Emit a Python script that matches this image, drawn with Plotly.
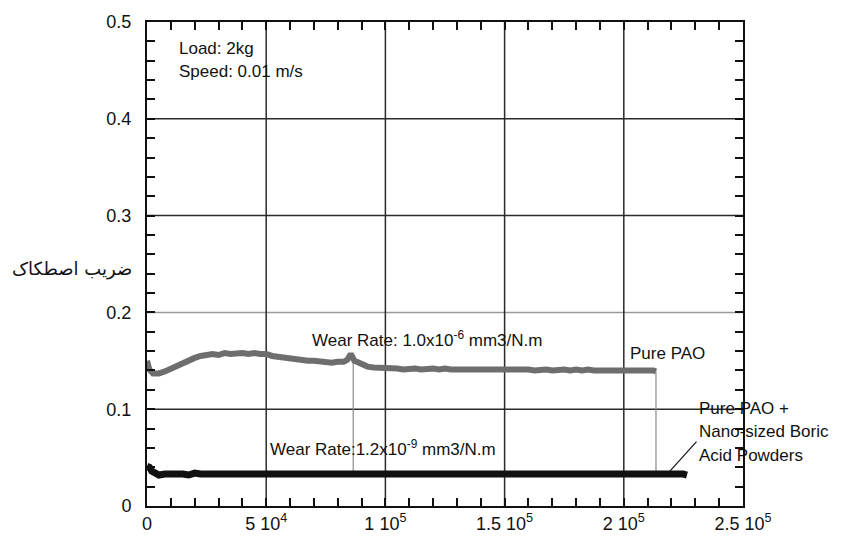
import plotly.graph_objects as go

# ---------------- data ----------------
pao_x = [0, 1000, 2500, 5000, 7500, 10000, 12500, 15000, 17500, 20000, 22500, 25000,
         27500, 30000, 32500, 35000, 37500, 40000, 42500, 45000, 47500, 50000, 52500,
         55000, 57500, 60000, 62500, 65000, 67500, 70000, 72500, 75000, 77500, 80000,
         82500, 84000, 85500, 87000, 90000, 92500, 95000, 97500, 100000, 102500, 105000,
         107500, 110000, 112500, 115000, 117500, 120000, 122500, 125000, 127500, 130000,
         132500, 135000, 137500, 140000, 142500, 145000, 147500, 150000, 152500, 155000,
         157500, 160000, 162500, 165000, 167500, 170000, 172500, 175000, 177500, 180000,
         182500, 185000, 187500, 190000, 192500, 195000, 197500, 200000, 202500, 205000,
         207500, 210000, 212500, 213500]
pao_y = [0.150, 0.141, 0.137, 0.137, 0.139, 0.142, 0.145, 0.148, 0.151, 0.153, 0.155, 0.156,
         0.157, 0.156, 0.158, 0.157, 0.158, 0.158, 0.157, 0.158, 0.157, 0.157, 0.155,
         0.154, 0.154, 0.152, 0.152, 0.151, 0.150, 0.150, 0.149, 0.148, 0.148, 0.149,
         0.149, 0.151, 0.157, 0.150, 0.146, 0.144, 0.143, 0.143, 0.142, 0.143, 0.142,
         0.141, 0.142, 0.142, 0.141, 0.142, 0.142, 0.141, 0.142, 0.141, 0.141,
         0.142, 0.141, 0.142, 0.142, 0.141, 0.141, 0.142, 0.141, 0.141, 0.142,
         0.141, 0.141, 0.140, 0.141, 0.141, 0.140, 0.141, 0.141, 0.140, 0.141,
         0.140, 0.141, 0.140, 0.140, 0.141, 0.140, 0.140, 0.140, 0.141, 0.140,
         0.140, 0.140, 0.140, 0.139]

boric_x = [0, 1000, 2000, 3500, 5000, 7500, 10000, 12500, 15000, 17500, 20000, 22500,
           25000, 27500, 30000, 32500, 35000, 37500, 40000, 42500, 45000, 47500, 50000,
           52500, 55000, 57500, 60000, 62500, 65000, 67500, 70000, 72500, 75000, 77500,
           80000, 82500, 85000, 87500, 90000, 92500, 95000, 97500, 100000, 102500, 105000,
           107500, 110000, 112500, 115000, 117500, 120000, 122500, 125000, 127500, 130000,
           132500, 135000, 137500, 140000, 142500, 145000, 147500, 150000, 152500, 155000,
           157500, 160000, 162500, 165000, 167500, 170000, 172500, 175000, 177500, 180000,
           182500, 185000, 187500, 190000, 192500, 195000, 197500, 200000, 202500, 205000,
           207500, 210000, 212500, 215000, 217500, 220000, 222500, 225000, 226500]
boric_y = [0.041, 0.040, 0.036, 0.033, 0.032, 0.033, 0.033, 0.034, 0.033, 0.032, 0.034, 0.033,
           0.033, 0.034, 0.033, 0.033, 0.034, 0.033, 0.033, 0.034, 0.033, 0.033, 0.034,
           0.033, 0.034, 0.033, 0.033, 0.034, 0.033, 0.034, 0.033, 0.033, 0.034, 0.033,
           0.033, 0.034, 0.033, 0.034, 0.033, 0.033, 0.034, 0.033, 0.034, 0.033, 0.033,
           0.034, 0.033, 0.034, 0.033, 0.034, 0.033, 0.034, 0.034, 0.033, 0.034,
           0.033, 0.034, 0.033, 0.034, 0.034, 0.033, 0.034, 0.033, 0.034, 0.033,
           0.034, 0.034, 0.033, 0.034, 0.033, 0.034, 0.034, 0.033, 0.034, 0.033,
           0.034, 0.033, 0.034, 0.034, 0.033, 0.034, 0.033, 0.034, 0.033, 0.034,
           0.033, 0.034, 0.033, 0.034, 0.033, 0.034, 0.033, 0.033, 0.032]

# connector lines between the curves (x position, top, bottom)
drop_x = [86500, 213500]
drop_top = [0.152, 0.139]
drop_bottom = [0.034, 0.034]

# every tick position gets an inside tick mark; only the majors get a label
x_tickvals = [i * 10000 for i in range(26)]
x_major_labels = {0: "0", 5: "5 10<sup>4</sup>", 10: "1 10<sup>5</sup>",
                  15: "1.5 10<sup>5</sup>", 20: "2 10<sup>5</sup>", 25: "2.5 10<sup>5</sup>"}
x_ticktext = [x_major_labels.get(i, "") for i in range(26)]
x_grid = [50000, 100000, 150000, 200000]

y_tickvals = [round(i * 0.02, 2) for i in range(26)]
y_major_labels = {0: "0", 5: "0.1", 10: "0.2", 15: "0.3", 20: "0.4", 25: "0.5"}
y_ticktext = [y_major_labels.get(i, "") for i in range(26)]
y_grid = [0.1, 0.2, 0.3, 0.4]
y_grid_colors = ["#2a2a2a", "#9a9a9a", "#2a2a2a", "#2a2a2a"]

X_MAX, Y_MAX = 250000, 0.5
FONT = "Liberation Sans, Arial, sans-serif"

fig = go.Figure()

for xv, yt, yb in zip(drop_x, drop_top, drop_bottom):
    fig.add_trace(go.Scatter(x=[xv, xv], y=[yt, yb], mode="lines",
                             line=dict(color="#8a8a8a", width=1.2),
                             showlegend=False, hoverinfo="skip"))

fig.add_trace(go.Scatter(x=pao_x, y=pao_y, mode="lines",
                         line=dict(color="#6e6e6e", width=6), showlegend=False))
fig.add_trace(go.Scatter(x=boric_x, y=boric_y, mode="lines",
                         line=dict(color="#111111", width=7), showlegend=False))

# grid lines
for yv, c in zip(y_grid, y_grid_colors):
    fig.add_shape(type="line", xref="x", yref="y", x0=0, x1=X_MAX, y0=yv, y1=yv,
                  line=dict(color=c, width=1.5), layer="below")
for xv in x_grid:
    fig.add_shape(type="line", xref="x", yref="y", x0=xv, x1=xv, y0=0, y1=Y_MAX,
                  line=dict(color="#2a2a2a", width=1.5), layer="below")

ann = [
    dict(x=12600, y=0.473, text="Load: 2kg"),
    dict(x=12600, y=0.449, text="Speed: 0.01 m/s"),
    dict(x=68400, y=0.173, text="Wear Rate: 1.0x10<sup>-6</sup> mm3/N.m"),
    dict(x=201800, y=0.158, text="Pure PAO"),
    dict(x=50800, y=0.060, text="Wear Rate:1.2x10<sup>-9</sup> mm3/N.m"),
    dict(x=230700, y=0.1004, text="Pure PAO +"),
    dict(x=230700, y=0.0768, text="Nano-sized Boric"),
    dict(x=230700, y=0.0523, text="Acid Powders"),
]
for a in ann:
    fig.add_annotation(x=a["x"], y=a["y"], text=a["text"], xref="x", yref="y",
                       xanchor="left", yanchor="middle", showarrow=False,
                       font=dict(family=FONT, size=17, color="#111"))

fig.add_shape(type="line", xref="x", yref="y", x0=230500, y0=0.0666, x1=218500, y1=0.0338,
              line=dict(color="#111", width=1.2))

fig.add_annotation(x=-0.126, y=0.49, xref="paper", yref="paper", xanchor="center",
                   yanchor="middle", showarrow=False, text="ضریب اصطکاک",
                   font=dict(family="DejaVu Sans, sans-serif", size=18, color="#111"))

tick_font = dict(family=FONT, size=18, color="#111")
axis_common = dict(showgrid=False, showline=True, linecolor="#111", linewidth=2,
                   mirror="allticks", ticks="inside", ticklen=8, tickwidth=2,
                   tickcolor="#111", tickfont=tick_font, zeroline=False)

fig.update_layout(
    width=847, height=550, margin=dict(l=147, r=104, t=18, b=44),
    plot_bgcolor="white", paper_bgcolor="white",
    font=dict(family=FONT, size=17, color="#111"),
    xaxis=dict(range=[0, X_MAX], tickmode="array", tickvals=x_tickvals,
               ticktext=x_ticktext, **axis_common),
    yaxis=dict(range=[0, Y_MAX], tickmode="array", tickvals=y_tickvals,
               ticktext=y_ticktext, ticklabelstandoff=10, **axis_common),
)

fig.write_html("out.html")
